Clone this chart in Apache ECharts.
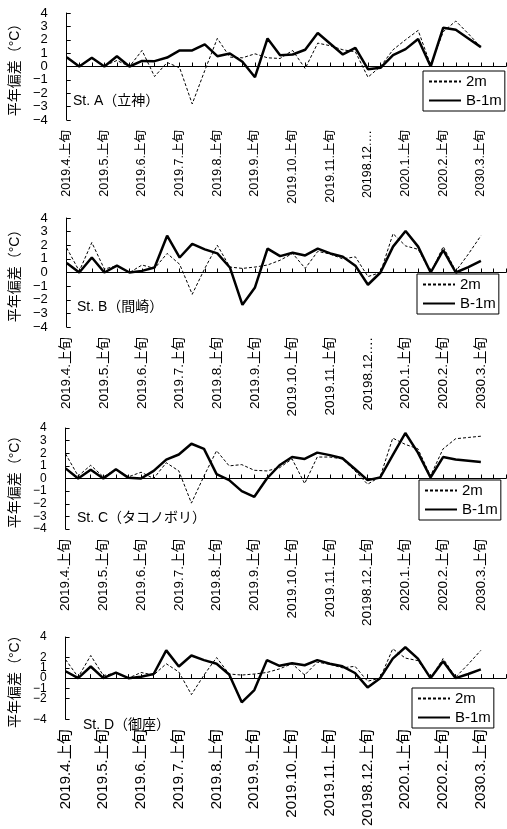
<!DOCTYPE html>
<html lang="ja">
<head>
<meta charset="UTF-8">
<title>平年偏差</title>
<script src="https://cdn.jsdelivr.net/npm/echarts@6.0.0/dist/echarts.min.js"></script>
<style>
  html, body { margin: 0; padding: 0; background: #fff; }
  #chart { width: 507px; height: 829px; }
</style>
</head>
<body>
<div id="chart"></div>
<script>
// 旬ごとのカテゴリ（ラベルは原図のまま）
var categories = [
  '2019.4.上旬', '2019.4.中旬', '2019.4.下旬',
  '2019.5.上旬', '2019.5.中旬', '2019.5.下旬',
  '2019.6.上旬', '2019.6.中旬', '2019.6.下旬',
  '2019.7.上旬', '2019.7.中旬', '2019.7.下旬',
  '2019.8.上旬', '2019.8.中旬', '2019.8.下旬',
  '2019.9.上旬', '2019.9.中旬', '2019.9.下旬',
  '2019.10.上旬', '2019.10.中旬', '2019.10.下旬',
  '2019.11.上旬', '2019.11.中旬', '2019.11.下旬',
  '20198.12.上旬', '20198.12.中旬', '20198.12.下旬',
  '2020.1.上旬', '2020.1.中旬', '2020.1.下旬',
  '2020.2.上旬', '2020.2.中旬', '2020.2.下旬',
  '2030.3.上旬', '2030.3.中旬', '2030.3.下旬'
];
var seriesNames = ['2m', 'B-1m'];
var stations = ['St. A（立神）', 'St. B（間崎）', 'St. C（タコノボリ）', 'St. D（御座）'];
var yMin = -4, yMax = 4, yStep = 1;

// St. A
var a2m  = [0.7, 0.05, 0.6, 0.05, 0.45, 0.0, 1.2, -0.75, 0.3, -0.1, -2.8, -0.3, 2.1, 0.7, 0.65, 0.95, 0.65, 0.6, 1.2, -0.15, 1.75, 1.55, 1.25, 1.1, -0.8, 0.0, 1.25, 2.0, 2.7, 0.1, 2.6, 3.4, 2.45, 1.45];
var aB1m = [0.7, 0.0, 0.65, 0.0, 0.77, 0.0, 0.42, 0.4, 0.67, 1.2, 1.2, 1.65, 0.77, 0.97, 0.35, -0.8, 2.1, 0.85, 0.9, 1.25, 2.5, 1.7, 0.9, 1.4, -0.2, -0.1, 0.85, 1.3, 2.05, 0.0, 2.9, 2.75, 2.1, 1.45];
// St. B
var b2m  = [1.8, 0.1, 2.2, 0.25, 0.5, 0.0, 0.55, 0.3, 1.4, 0.6, -1.6, 0.3, 2.0, 0.4, 0.3, 0.4, 0.55, 0.9, 1.4, 0.3, 1.55, 1.35, 1.0, 1.15, -0.3, 0.0, 2.85, 1.95, 1.7, 0.0, 1.9, 0.1, 1.35, 2.7];
var bB1m = [0.7, 0.0, 1.1, 0.0, 0.5, 0.0, 0.12, 0.37, 2.7, 1.1, 2.1, 1.7, 1.4, 0.37, -2.37, -1.1, 1.75, 1.2, 1.45, 1.25, 1.75, 1.4, 1.15, 0.5, -0.9, 0.0, 1.9, 3.05, 1.9, 0.0, 1.65, 0.0, 0.4, 0.85];
// St. C
var c2m  = [1.95, 0.2, 1.05, 0.13, 0.73, 0.13, 0.5, 0.0, 1.25, 0.6, -1.95, 0.2, 2.2, 1.0, 1.1, 0.65, 0.6, 0.85, 1.55, -0.4, 1.7, 1.7, 1.55, 0.6, -0.45, 0.13, 3.2, 2.7, 2.35, 0.2, 2.35, 3.15, 3.25, 3.35];
var cB1m = [0.8, 0.0, 0.7, 0.0, 0.73, 0.05, 0.0, 0.6, 1.5, 1.9, 2.75, 2.35, 0.35, -0.13, -1.0, -1.45, 0.0, 1.05, 1.7, 1.55, 2.05, 1.85, 1.6, 0.75, -0.13, 0.08, 1.85, 3.6, 2.05, 0.08, 1.7, 1.5, 1.4, 1.3];
// St. D
var d2m  = [1.8, 0.1, 2.2, 0.25, 0.5, 0.0, 0.55, 0.3, 1.4, 0.6, -1.6, 0.3, 2.0, 0.4, 0.3, 0.4, 0.55, 0.9, 1.4, 0.3, 1.55, 1.35, 1.0, 1.15, -0.3, 0.0, 2.85, 1.95, 1.7, 0.0, 1.9, 0.1, 1.35, 2.7];
var dB1m = [0.67, 0.0, 1.13, 0.0, 0.54, 0.0, 0.13, 0.4, 2.7, 1.13, 2.2, 1.75, 1.4, 0.35, -2.35, -1.16, 1.75, 1.2, 1.45, 1.25, 1.75, 1.4, 1.15, 0.5, -0.9, 0.0, 1.9, 3.0, 1.9, 0.0, 1.65, 0.0, 0.4, 0.85];

var panelData = [[a2m, aB1m], [b2m, bB1m], [c2m, cB1m], [d2m, dB1m]];

// 各パネルの配置
var layout = [
  { left: 62, top: 13,  width: 444, height: 107, labelSize: 12.5, labelWidth: 77, ySize: 13, legendLeft: 423, legendTop: 71,  stX: 73, stY: 101 },
  { left: 64, top: 218, width: 442, height: 109, labelSize: 13.5, labelWidth: 83, ySize: 13, legendLeft: 417, legendTop: 274, stX: 77, stY: 307 },
  { left: 64, top: 428, width: 442, height: 101, labelSize: 13.5, labelWidth: 0,  ySize: 12, legendLeft: 419, legendTop: 480, stX: 77, stY: 518 },
  { left: 62, top: 637, width: 444, height: 101, labelSize: 15,   labelWidth: 0,  ySize: 12, legendLeft: 412, legendTop: 688, stX: 83, stY: 725 }
];

var font = "'Liberation Sans', 'Noto Sans CJK JP', sans-serif";

var option = {
  animation: false,
  backgroundColor: '#fff',
  grid: layout.map(function (p) {
    return { left: p.left, top: p.top, width: p.width, height: p.height };
  }),
  xAxis: layout.map(function (p, i) {
    var label = {
      interval: 2, rotate: 90, margin: 10,
      fontSize: p.labelSize, color: '#000', fontFamily: font
    };
    if (p.labelWidth) {
      label.width = p.labelWidth;
      label.overflow = 'truncate';
      label.ellipsis = '…';
    }
    return {
      type: 'category', gridIndex: i, data: categories, boundaryGap: false,
      axisLine: { lineStyle: { color: '#000', width: 1 } },
      axisTick: { inside: true, length: 4, interval: 0, lineStyle: { color: '#000' } },
      axisLabel: label,
      splitLine: { show: false }
    };
  }),
  yAxis: layout.map(function (p, i) {
    return {
      type: 'value', gridIndex: i, min: yMin, max: yMax, interval: yStep,
      name: '平年偏差（°C）', nameLocation: 'middle', nameGap: 37, nameRotate: 90,
      nameTextStyle: { fontSize: 14, color: '#000', fontFamily: font },
      axisLine: { show: true, lineStyle: { color: '#000', width: 1 } },
      axisTick: { show: true, inside: true, length: 4, lineStyle: { color: '#000' } },
      axisLabel: {
        margin: 19, fontSize: p.ySize, color: '#000', fontFamily: font,
        hideOverlap: false, showMinLabel: true, showMaxLabel: true,
        formatter: function (v) { return String(v).replace('-', '−'); }
      },
      splitLine: { show: false }
    };
  }),
  legend: layout.map(function (p) {
    return {
      left: p.legendLeft, top: p.legendTop, orient: 'vertical',
      data: seriesNames,
      backgroundColor: '#fff', borderColor: '#000', borderWidth: 1, borderRadius: 0,
      padding: [3, 3, 3, 5], itemGap: 4, itemWidth: 32, itemHeight: 16,
      itemStyle: { color: 'rgba(0,0,0,0)', borderWidth: 0 },
      textStyle: { fontSize: 15, color: '#000', fontFamily: font }
    };
  }),
  graphic: layout.map(function (p, i) {
    return {
      type: 'text', x: p.stX, y: p.stY, z: 10,
      style: { text: stations[i], fontSize: 14, fontFamily: font, fill: '#000', verticalAlign: 'middle' }
    };
  }),
  series: []
};

panelData.forEach(function (pair, i) {
  option.series.push({
    name: seriesNames[0], type: 'line', xAxisIndex: i, yAxisIndex: i,
    data: pair[0], symbol: 'none',
    itemStyle: { color: '#000' },
    lineStyle: { color: '#000', width: 1, type: [3, 2] }
  });
  option.series.push({
    name: seriesNames[1], type: 'line', xAxisIndex: i, yAxisIndex: i,
    data: pair[1], symbol: 'none',
    itemStyle: { color: '#000' },
    lineStyle: { color: '#000', width: 2.5 }
  });
});

var chart = echarts.init(document.getElementById('chart'));
chart.setOption(option);
</script>
</body>
</html>
